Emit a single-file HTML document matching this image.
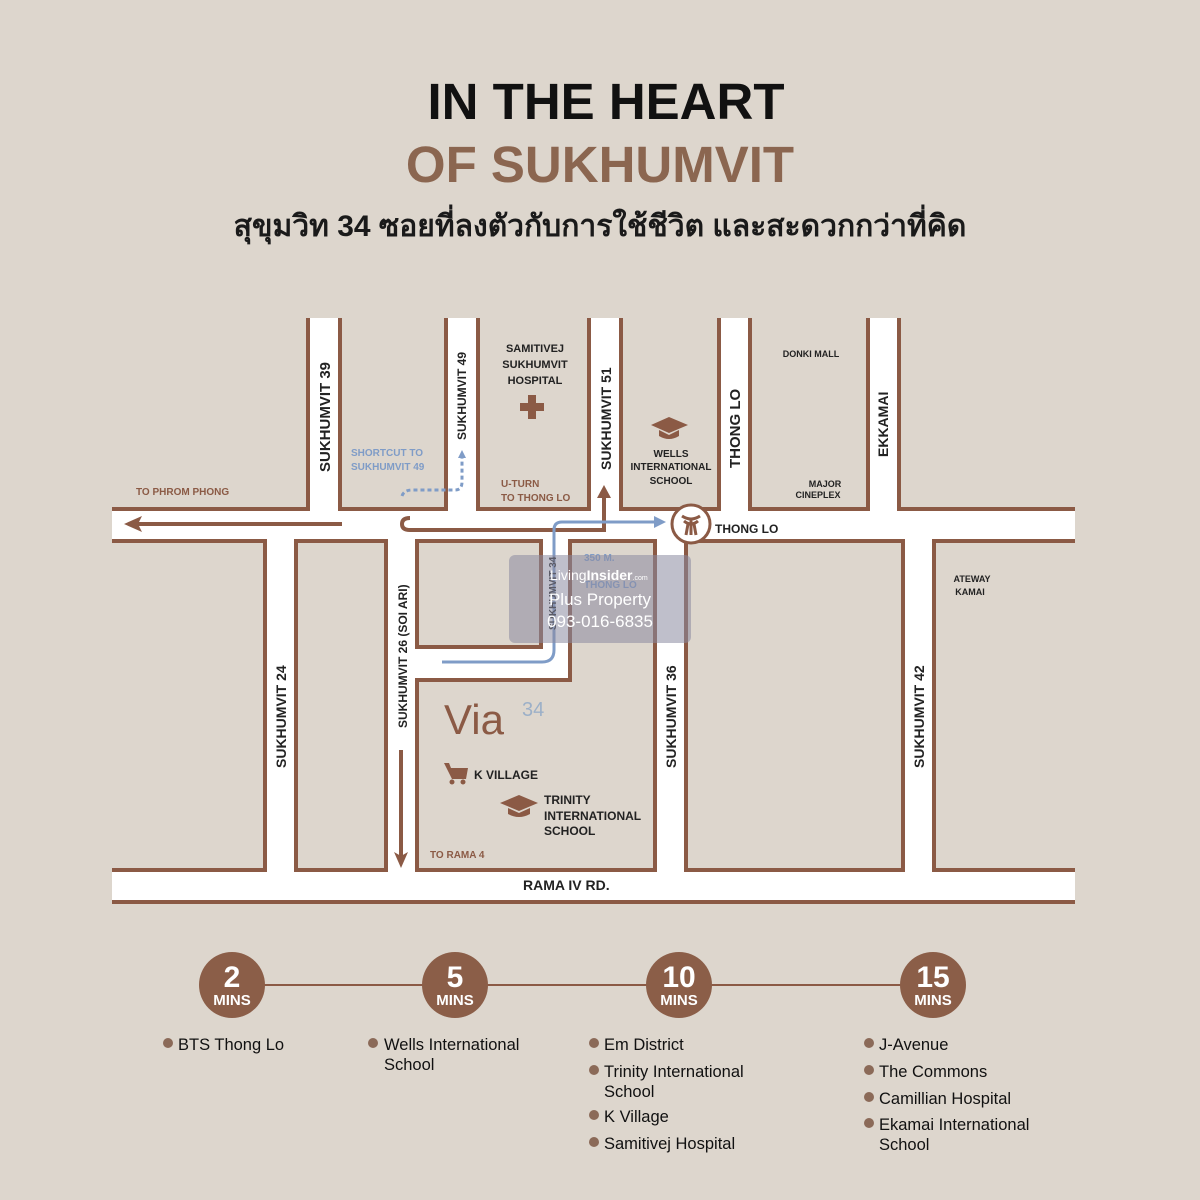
<!DOCTYPE html>
<html><head><meta charset="utf-8"><style>
html,body{margin:0;padding:0;background:#ddd6cd;}
svg{display:block}
</style></head><body>
<svg width="1200" height="1200" viewBox="0 0 1200 1200" xmlns="http://www.w3.org/2000/svg" font-family="Liberation Sans, sans-serif">
<rect width="1200" height="1200" fill="#ddd6cd"/>
<text x="606" y="119" text-anchor="middle" font-size="51" font-weight="bold" fill="#111">IN THE HEART</text>
<text x="600" y="182" text-anchor="middle" font-size="51" font-weight="bold" fill="#8b6650">OF SUKHUMVIT</text>
<text x="600" y="236" text-anchor="middle" font-size="30" font-weight="bold" fill="#1a1a1a">สุขุมวิท 34 ซอยที่ลงตัวกับการใช้ชีวิต และสะดวกกว่าที่คิด</text>

<defs><clipPath id="mc"><rect x="112" y="317" width="963" height="588"/></clipPath></defs>
<rect x="112" y="317" width="963" height="586" fill="#fff"/>
<g clip-path="url(#mc)" fill="#ddd6cd" stroke="#8b5a45" stroke-width="4">
<rect x="-50" y="280" width="358" height="229"/>
<rect x="340" y="280" width="106" height="229"/>
<rect x="478" y="280" width="111" height="229"/>
<rect x="621" y="280" width="98" height="229"/>
<rect x="750" y="280" width="118" height="229"/>
<rect x="899" y="280" width="400" height="229"/>
<rect x="-50" y="541" width="315" height="329"/>
<rect x="296" y="541" width="90" height="329"/>
<rect x="417" y="541" width="124" height="106"/>
<path d="M417 680 L570 680 L570 541 L655 541 L655 870 L417 870 Z"/>
<rect x="686" y="541" width="217" height="329"/>
<rect x="934" y="541" width="400" height="329"/>
</g>
<rect x="112" y="316" width="963" height="2" fill="#ddd6cd"/>
<line x1="112" y1="902" x2="1075" y2="902" stroke="#8b5a45" stroke-width="4"/>
<rect x="1075" y="509" width="10" height="33" fill="#ddd6cd"/>

<g stroke="#8b5a45" stroke-width="4" fill="none">
<line x1="130" y1="524" x2="342" y2="524"/>
<path d="M410 518 Q402 518 402 524 Q402 530 410 530 L604 530 L604 492"/>
<line x1="401" y1="750" x2="401" y2="860"/>
</g>
<g fill="#8b5a45">
<path d="M124 524 L142 516 L138 524 L142 532 Z"/>
<path d="M604 485 L597 498 L611 498 Z"/>
<path d="M401 868 L394 852 L401 856 L408 852 Z"/>
</g>
<g stroke="#7f9cc7" stroke-width="3" fill="none">
<path d="M442 662 L542 662 Q554 662 554 650 L554 530 Q554 522 562 522 L658 522"/>
<path d="M402 496 Q404 490 412 490 L455 490 Q462 490 462 482 L462 458" stroke-dasharray="4 3"/>
</g>
<path d="M666 522 L654 516 L654 528 Z" fill="#7f9cc7"/>
<path d="M462 450 L458 458 L466 458 Z" fill="#7f9cc7"/>

<g font-weight="bold" fill="#222" font-size="15">
<text transform="translate(330,472) rotate(-90)">SUKHUMVIT 39</text>
<text transform="translate(466,440) rotate(-90)" font-size="12">SUKHUMVIT 49</text>
<text transform="translate(611,470) rotate(-90)" font-size="14">SUKHUMVIT 51</text>
<text transform="translate(740,468) rotate(-90)" font-size="15">THONG LO</text>
<text transform="translate(888,457) rotate(-90)" font-size="14">EKKAMAI</text>
<text transform="translate(286,768) rotate(-90)" font-size="14">SUKHUMVIT 24</text>
<text transform="translate(407,728) rotate(-90)" font-size="12">SUKHUMVIT 26 (SOI ARI)</text>
<text transform="translate(676,768) rotate(-90)" font-size="14">SUKHUMVIT 36</text>
<text transform="translate(924,768) rotate(-90)" font-size="14">SUKHUMVIT 42</text>
<text transform="translate(556,630) rotate(-90)" font-size="10">SUKHUMVIT 34</text>
<text x="523" y="890" font-size="14">RAMA IV RD.</text>
<text x="715" y="533" font-size="12">THONG LO</text>
</g>
<g font-weight="bold" fill="#222" font-size="11" text-anchor="middle">
<text x="535" y="352">SAMITIVEJ</text><text x="535" y="368">SUKHUMVIT</text><text x="535" y="384">HOSPITAL</text>
<text x="671" y="457" font-size="10">WELLS</text><text x="671" y="470" font-size="10">INTERNATIONAL</text><text x="671" y="484" font-size="10">SCHOOL</text>
<text x="811" y="357" font-size="9">DONKI MALL</text>
<text x="825" y="487" font-size="9">MAJOR</text><text x="818" y="498" font-size="9">CINEPLEX</text>
<text x="972" y="582" font-size="9">ATEWAY</text><text x="970" y="595" font-size="9">KAMAI</text>
</g>
<g font-weight="bold" font-size="10" fill="#8b5a45">
<text x="136" y="495">TO PHROM PHONG</text>
<text x="501" y="487">U-TURN</text><text x="501" y="501">TO THONG LO</text>
<text x="430" y="858">TO RAMA 4</text>
</g>
<g font-weight="bold" font-size="10" fill="#7f9cc7">
<text x="351" y="456">SHORTCUT TO</text><text x="351" y="470">SUKHUMVIT 49</text>
<text x="584" y="561">350 M.</text><text x="584" y="588">THONG LO</text>
</g>
<rect x="528" y="395" width="8" height="24" fill="#8b5a45"/><rect x="520" y="403" width="24" height="8" fill="#8b5a45"/>
<g fill="#8b5a45">
<path d="M651 425 L669 417 L688 425 L669 433 Z"/><path d="M659 430 L659 436 Q669 442 679 436 L679 430 L669 435 Z"/>
<path d="M500 803 L519 795 L538 803 L519 811 Z"/><path d="M508 808 L508 814 Q519 820 530 814 L530 808 L519 813 Z"/>
<path d="M444 763 L449 763 L451 768 L468 768 L466 779 L452 779 Z"/><circle cx="452" cy="782" r="2.5"/><circle cx="463" cy="782" r="2.5"/>
</g>
<text x="474" y="779" font-size="12" font-weight="bold" fill="#222">K VILLAGE</text>
<g font-size="12" font-weight="bold" fill="#222"><text x="544" y="804">TRINITY</text><text x="544" y="820">INTERNATIONAL</text><text x="544" y="835">SCHOOL</text></g>
<text x="444" y="734" font-size="42" fill="#8b5a45">Via</text>
<text x="522" y="716" font-size="20" fill="#9cb0c8">34</text>
<circle cx="691" cy="524" r="19" fill="#fff" stroke="#8b5a45" stroke-width="3"/>
<path d="M682 516 Q691 522 700 516 M684 521 Q691 527 698 521 M688 524 L686 535 M694 524 L696 535 M691 520 L691 535" stroke="#8b5a45" stroke-width="3" fill="none"/>

<rect x="509" y="555" width="182" height="88" rx="6" fill="#8a8aa0" fill-opacity="0.55"/>
<text x="550" y="580" font-size="14" fill="#fff">Living<tspan font-weight="bold">Insider</tspan><tspan font-size="7">.com</tspan></text>
<text x="600" y="605" font-size="17" fill="#fff" text-anchor="middle">Plus Property</text>
<text x="600" y="627" font-size="17" fill="#fff" text-anchor="middle">093-016-6835</text>

<line x1="232" y1="985" x2="933" y2="985" stroke="#8b5a45" stroke-width="2"/>
<g fill="#8b5e48">
<circle cx="232" cy="985" r="33"/><circle cx="455" cy="985" r="33"/><circle cx="679" cy="985" r="33"/><circle cx="933" cy="985" r="33"/>
</g>
<g fill="#fff" font-weight="bold" text-anchor="middle">
<text x="232" y="987" font-size="30">2</text><text x="232" y="1005" font-size="15">MINS</text>
<text x="455" y="987" font-size="30">5</text><text x="455" y="1005" font-size="15">MINS</text>
<text x="679" y="987" font-size="30">10</text><text x="679" y="1005" font-size="15">MINS</text>
<text x="933" y="987" font-size="30">15</text><text x="933" y="1005" font-size="15">MINS</text>
</g>
<g fill="#8b6a58">
<circle cx="168" cy="1043" r="5"/><circle cx="373" cy="1043" r="5"/>
<circle cx="594" cy="1043" r="5"/><circle cx="594" cy="1070" r="5"/><circle cx="594" cy="1115" r="5"/><circle cx="594" cy="1142" r="5"/>
<circle cx="869" cy="1043" r="5"/><circle cx="869" cy="1070" r="5"/><circle cx="869" cy="1097" r="5"/><circle cx="869" cy="1123" r="5"/>
</g>
<g fill="#111" font-size="16.5">
<text x="178" y="1050">BTS Thong Lo</text>
<text x="384" y="1050">Wells International</text><text x="384" y="1070">School</text>
<text x="604" y="1050">Em District</text>
<text x="604" y="1077">Trinity International</text><text x="604" y="1097">School</text>
<text x="604" y="1122">K Village</text>
<text x="604" y="1149">Samitivej Hospital</text>
<text x="879" y="1050">J-Avenue</text>
<text x="879" y="1077">The Commons</text>
<text x="879" y="1104">Camillian Hospital</text>
<text x="879" y="1130">Ekamai International</text><text x="879" y="1150">School</text>
</g>
</svg>
</body></html>
